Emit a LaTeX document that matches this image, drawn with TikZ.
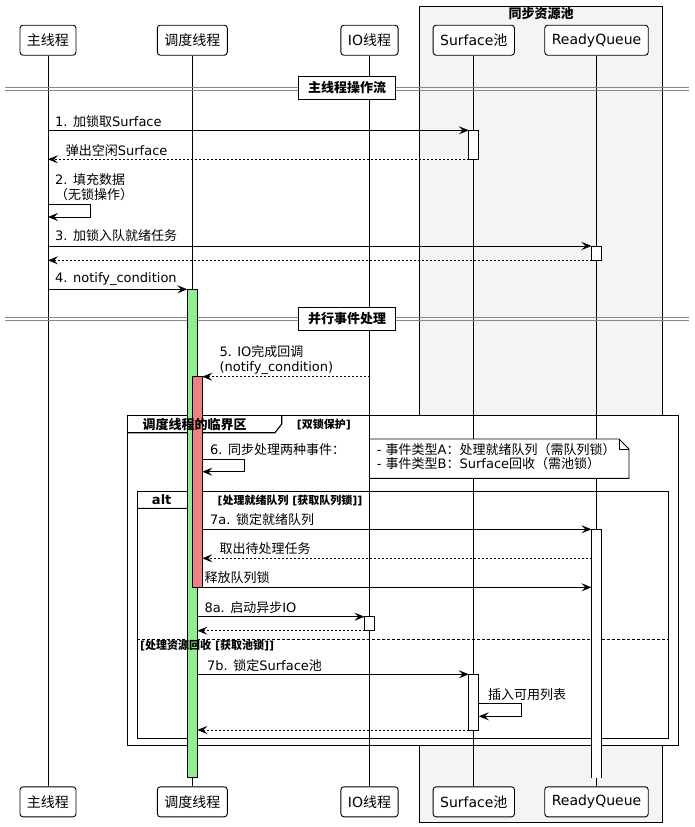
\documentclass[tikz,border=0pt]{standalone}
\usepackage{fontspec}
\setmainfont{DejaVu Sans}
\newfontfamily\zhfont{Noto Sans CJK SC}
\newcommand\zh[1]{{\zhfont#1}}
\usetikzlibrary{arrows.meta}

\definecolor{poolbg}{HTML}{F4F4F4}
\definecolor{actgreen}{HTML}{90EE90}
\definecolor{actred}{HTML}{F08080}
\definecolor{divgray}{HTML}{888888}

\tikzset{
  participant/.style={draw, fill=white, rounded corners=3pt, line width=0.9pt,
    inner xsep=7pt, inner ysep=0pt, minimum height=30pt,
    font=\fontsize{14pt}{16pt}\selectfont},
  lifeline/.style={line width=0.9pt},
  msg/.style={line width=0.9pt, -{Stealth[length=10pt,width=8pt,inset=4pt]}},
  ret/.style={msg, dash pattern=on 2pt off 2pt},
  act/.style={draw, line width=0.9pt, inner sep=0pt, outer sep=0pt,
    minimum width=10pt, anchor=north},
  lbl/.style={anchor=west, inner sep=0pt, align=left,
    font=\fontsize{13pt}{15pt}\selectfont},
  grpframe/.style={draw, fill=white, line width=1.1pt},
  grptab/.style={line width=1.1pt},
  ftitle/.style={anchor=west, inner sep=0pt,
    font=\bfseries\fontsize{13pt}{15pt}\selectfont},
  fcond/.style={anchor=west, inner sep=0pt,
    font=\bfseries\fontsize{11pt}{13pt}\selectfont},
  divbox/.style={draw, fill=white, line width=1pt, inner xsep=9.5pt,
    inner ysep=0pt, minimum height=23pt,
    font=\bfseries\fontsize{13pt}{15pt}\selectfont},
  divline/.style={draw=divgray, line width=0.8pt},
  notetext/.style={anchor=west, inner sep=0pt, align=left,
    font=\fontsize{13pt}{14pt}\selectfont},
}

\begin{document}
\begin{tikzpicture}[x=1pt,y=-1pt]
\useasboundingbox (0,0) rectangle (694,827);

% resource pool box
\draw[fill=poolbg, line width=0.9pt] (419.3,6) rectangle (662.5,822);
\node[ftitle, anchor=center] (poolTitle) at (541,13.5) {\zh{同步资源池}};

% group frames
\draw[grpframe] (127.3,415.5) rectangle (678.3,745.3);
\draw[grptab] (127.3,432.7) -- (275,432.7) -- (281.7,424) -- (281.7,415.5);
\draw[grpframe] (137.3,491.5) rectangle (668.3,738.3);
\draw[grptab] (137.3,508.3) -- (194.3,508.3) -- (201,501) -- (201,491.5);
\draw[line width=0.9pt, dash pattern=on 3pt off 2pt] (137.3,639.3) -- (668.3,639.3);

% participants
\node[participant] (hMain)  at (48,40.2)   {\zh{主线程}};
\node[participant] (hSched) at (192.3,40.2) {\zh{调度线程}};
\node[participant] (hIO)    at (369.5,40.2) {IO\zh{线程}};
\node[participant] (hSurf)  at (473.8,40.2) {Surface\zh{池}};
\node[participant] (hRQ)    at (596.5,40.2) {ReadyQueue};
\node[participant] (fMain)  at (48,801.8)   {\zh{主线程}};
\node[participant] (fSched) at (192.3,801.8) {\zh{调度线程}};
\node[participant] (fIO)    at (369.5,801.8) {IO\zh{线程}};
\node[participant] (fSurf)  at (473.8,801.8) {Surface\zh{池}};
\node[participant] (fRQ)    at (596.5,801.8) {ReadyQueue};

% lifelines
\draw[lifeline] (hMain) -- (fMain);
\draw[lifeline] (hSched) -- (fSched);
\draw[lifeline] (hIO) -- (fIO);
\draw[lifeline] (hSurf) -- (fSurf);
\draw[lifeline] (hRQ) -- (fRQ);

% dividers
\draw[divline] (5,87.3) -- (689,87.3) (5,90) -- (689,90);
\node[divbox] (div1) at (347,87.7) {\zh{主线程操作流}};
\draw[divline] (5,317.7) -- (689,317.7) (5,320.3) -- (689,320.3);
\node[divbox] (div2) at (347,318.5) {\zh{并行事件处理}};

% activations
\node[act, fill=white, minimum height=29pt] (aS1) at (473.8,130.3) {};
\node[act, fill=white, minimum height=14.3pt] (aR1) at (596.5,246) {};
\node[act, fill=actgreen, minimum height=488pt] (aG) at (192.3,289.3) {};
\node[act, fill=actred, minimum height=210.6pt] (aRed) at (197.3,376.7) {};
\node[act, draw=none, fill=white, minimum height=249pt] (aR2) at (596.5,529.3) {};
\draw[line width=0.9pt] (aR2.south west) -- (aR2.north west) -- (aR2.north east) -- (aR2.south east);
\node[act, fill=white, minimum height=14pt] (aIO) at (369.5,616.7) {};
\node[act, fill=white, minimum height=55.7pt] (aS2) at (473.8,674.3) {};

% main thread flow
\draw[msg] (hMain |- aS1.north) -- (aS1.north west);
\node[lbl] (t1) at (55,121.3) {1. \zh{加锁取}Surface};
\draw[ret] (aS1.south west) -- (hMain |- aS1.south);
\node[lbl] (t1r) at (65.7,150.7) {\zh{弹出空闲}Surface};
\draw[msg] (hMain |- 0,204.3) -| (90.3,217) -- (hMain |- 0,217);
\node[lbl] (t2) at (55,186.8) {2. \zh{填充数据}\\\zh{（无锁操作）}};
\draw[msg] (hMain |- aR1.north) -- (aR1.north west);
\node[lbl] (t3) at (55,236) {3. \zh{加锁入队就绪任务}};
\draw[ret] (aR1.south west) -- (hMain |- aR1.south);
\draw[msg] (hMain |- aG.north) -- (aG.north west);
\node[lbl] (t4) at (55,279.3) {4. notify\_condition};

% parallel event handling
\draw[ret] (hIO |- aRed.north) -- (aRed.north east);
\node[lbl] (t5) at (219.3,359.8) {5. IO\zh{完成回调}\\(notify\_condition)};
\draw[msg] (aRed.east |- 0,459.3) -- (244.3,459.3) |- (aRed.east |- 0,471.7);
\node[lbl] (t6) at (210,450) {6. \zh{同步处理两种事件：}};

% note
\draw[line width=0.9pt, fill=white] (369.5,439) -- (619,439) -- (629,449) -- (629,478.3) -- (369.5,478.3) -- cycle;
\draw[line width=0.9pt] (619,439) -- (619,449) -- (629,449);
\node[notetext] (note) at (376.7,456.7) {- \zh{事件类型}A\zh{：处理就绪队列（需队列锁）}\\- \zh{事件类型}B\zh{：}Surface\zh{回收（需池锁）}};

% alt: ready queue branch
\draw[msg] (aRed.east |- aR2.north) -- (aR2.north west);
\node[lbl] (t7a) at (210,519.3) {7a. \zh{锁定就绪队列}};
\draw[ret] (aR2.west |- 0,558.3) -- (aRed.east |- 0,558.3);
\node[lbl] (t7ar) at (219.3,548.3) {\zh{取出待处理任务}};
\draw[msg] (aRed.south east) -- (aR2.west |- aRed.south);
\node[lbl] (t7rel) at (204.3,577.7) {\zh{释放队列锁}};
\draw[msg] (aG.east |- aIO.north) -- (aIO.north west);
\node[lbl] (t8a) at (204.3,607.7) {8a. \zh{启动异步}IO};
\draw[ret] (aIO.south west) -- (aG.east |- aIO.south);

% alt: resource recycling branch
\draw[msg] (aG.east |- aS2.north) -- (aS2.north west);
\node[lbl] (t7b) at (207,665.7) {7b. \zh{锁定}Surface\zh{池}};
\draw[msg] (aS2.east |- 0,703.3) -- (521,703.3) |- (aS2.east |- 0,716.3);
\node[lbl] (t7bs) at (488,694.3) {\zh{插入可用列表}};
\draw[ret] (aS2.south west) -- (aG.east |- aS2.south);

% frame headers
\node[ftitle] (critTitle) at (142.3,424.7) {\zh{调度线程的临界区}};
\node[fcond] (critCond) at (296.7,424.7) {[\zh{双锁保护}]};
\node[ftitle, anchor=center] (altTitle) at (161.7,500) {alt};
\node[fcond] (altCond) at (217.3,500) {[\zh{处理就绪队列} [\zh{获取队列锁}]]};
\node[fcond] (elseCond) at (140,646) {[\zh{处理资源回收} [\zh{获取池锁}]]};
\end{tikzpicture}
\end{document}
